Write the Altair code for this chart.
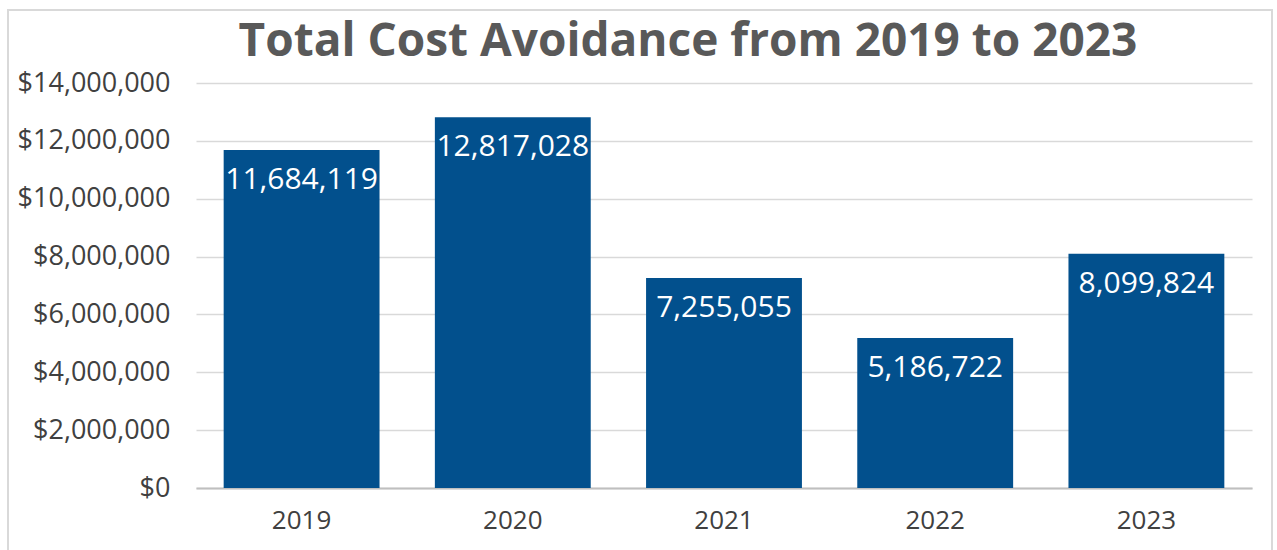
import altair as alt
import pandas as pd

years = ["2019", "2020", "2021", "2022", "2023"]
values = [11684119, 12817028, 7255055, 5186722, 8099824]
labels = ["11,684,119", "12,817,028", "7,255,055", "5,186,722", "8,099,824"]
title_text = "Total Cost Avoidance from 2019 to 2023"

df = pd.DataFrame({"year": years, "value": values, "label": labels})

base = alt.Chart(df)
one = base.transform_filter(alt.datum.year == "2019")

frame = one.mark_rect(fill="white", fillOpacity=0, stroke="#d9d9d9", strokeWidth=2).encode(
    x=alt.value(-188), x2=alt.value(1076), y=alt.value(-73), y2=alt.value(480)
)

title = one.mark_text(text=title_text, font="Open Sans", fontSize=46, fontWeight="bold",
                      color="#595959", baseline="middle", align="center").encode(
    x=alt.value(492), y=alt.value(-41)
)

bars = base.mark_bar(color="#02508d").encode(
    x=alt.X("year:N", sort=years, scale=alt.Scale(paddingInner=0.262, paddingOuter=0.131),
            axis=alt.Axis(title=None, labelAngle=0, labelFontSize=26, labelColor="#404040",
                          labelFont="Open Sans", labelPadding=19, ticks=False,
                          domainColor="#bfbfbf", domainWidth=2, grid=False)),
    y=alt.Y("value:Q", scale=alt.Scale(domain=[0, 14000000]),
            axis=alt.Axis(title=None, values=list(range(0, 14000001, 2000000)),
                          format="$,.0f", labelFontSize=27, labelColor="#404040",
                          labelFont="Open Sans", labelPadding=26, ticks=False,
                          domain=False, gridColor="#d9d9d9", gridWidth=1.5)),
)

text = base.mark_text(color="white", fontSize=30, font="Open Sans", baseline="middle", dy=30).encode(
    x=alt.X("year:N", sort=years),
    y=alt.Y("value:Q"),
    text="label:N",
)

chart = alt.layer(frame, title, bars, text).properties(
    width=1056,
    height=405,
    padding={"left": 196, "top": 83, "right": 25, "bottom": 62},
    autosize=alt.AutoSizeParams(type="none"),
).configure_view(stroke=None)

chart.save("out.html", embed_options={"renderer": "svg", "actions": False})
